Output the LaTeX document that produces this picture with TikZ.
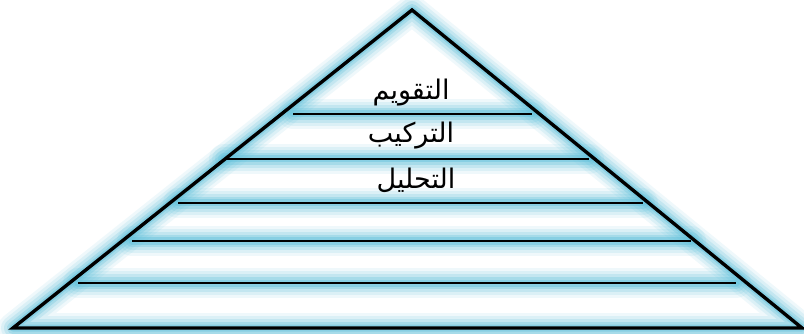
\documentclass[tikz,border=0pt]{standalone}
\usepackage{fontspec}
\TeXXeTstate=1
\newfontfamily\arabicfont[Script=Arabic]{DejaVu Sans}
\definecolor{glowc}{RGB}{100,194,220}
\tikzset{
  glowline/.style={draw=glowc, line cap=round, line join=round},
  mainline/.style={draw=black, line width=3.4pt, line join=miter},
  barline/.style={draw=black, line width=2.8pt},
  lbl/.style={font=\arabicfont\fontsize{27}{30}\selectfont, text=black, inner sep=0pt}
}
\begin{document}
\begin{tikzpicture}[x=1pt,y=-1pt]
\useasboundingbox[fill=white] (0,0) rectangle (804,334);
% triangle corners
\coordinate (A) at (412,10);
\coordinate (L) at (13,328);
\coordinate (R) at (802,328);
% bars
\coordinate (b1l) at (293,114); \coordinate (b1r) at (532,114);
\coordinate (b2l) at (224,159); \coordinate (b2r) at (589,159);
\coordinate (b3l) at (178,203); \coordinate (b3r) at (643,203);
\coordinate (b4l) at (132,241); \coordinate (b4r) at (691,241);
\coordinate (b5l) at (78,283);  \coordinate (b5r) at (736,283);
% glow
\foreach \w/\o in {30/0.10,24/0.14,18/0.2,12/0.3,7/0.45}{
  \begin{scope}[yshift=-3pt]
  \draw[glowline, line width=\w pt, opacity=\o] (L) -- (A) -- (R) -- cycle;
  \draw[glowline, line width=\w pt, opacity=\o] (b1l) -- (b1r) (b2l) -- (b2r) (b3l) -- (b3r) (b4l) -- (b4r) (b5l) -- (b5r);
  \end{scope}
}
% lines
\draw[mainline] (L) -- (A) -- (R) -- cycle;
\draw[barline] (b1l) -- (b1r) (b2l) -- (b2r) (b3l) -- (b3r) (b4l) -- (b4r) (b5l) -- (b5r);
% labels
\node[lbl] (t1) at (411,93) {\beginR التقويم\endR};
\node[lbl] (t2) at (411,136) {\beginR التركيب\endR};
\node[lbl] (t3) at (416,180) {\beginR التحليل\endR};
\end{tikzpicture}
\end{document}
